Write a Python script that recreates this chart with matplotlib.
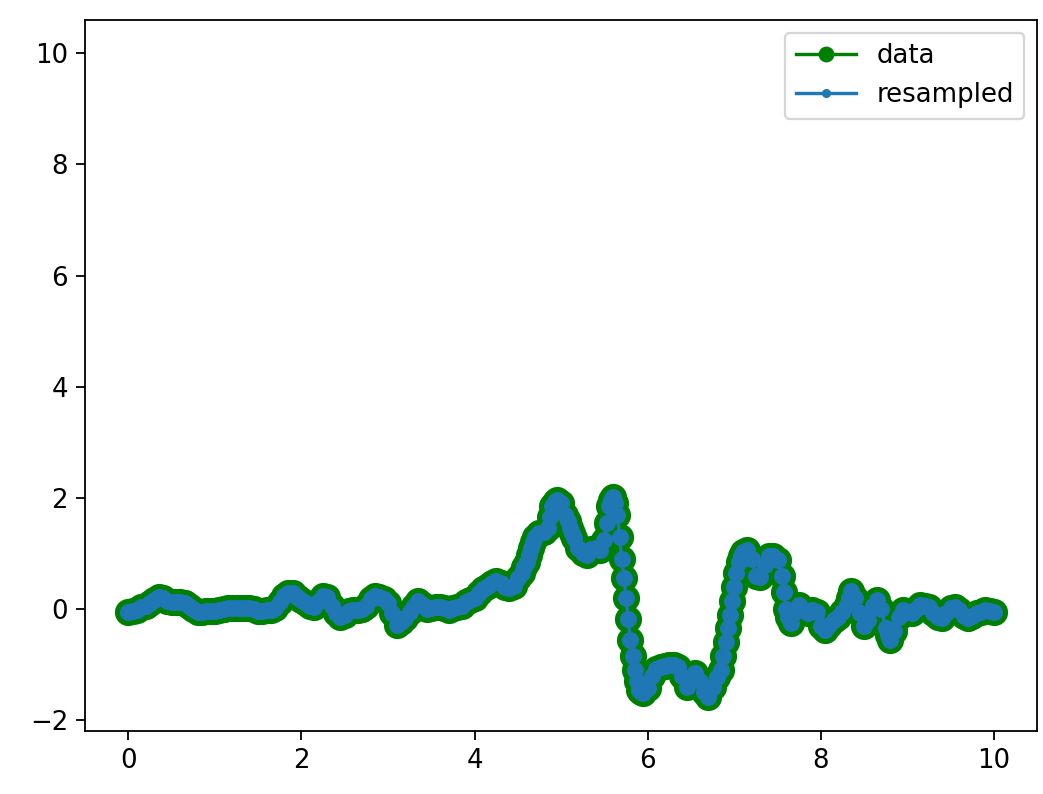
import numpy as np
import matplotlib
matplotlib.use("Agg")
from matplotlib import pyplot as plt
from matplotlib.lines import Line2D

# muestras, paso 0.05 de 0 a 10
x_base = np.arange(201) * 0.05
y_base = [-0.05, -0.04, -0.01, 0.03, 0.06, 0.10, 0.16, 0.22, 0.20, 0.15,
          0.13, 0.13, 0.12, 0.10, 0.05, 0.00, -0.05, -0.06, -0.04, -0.03,
          -0.03, -0.01, 0.00, 0.01, 0.01, 0.01, 0.02, 0.02, 0.01, 0.00,
          -0.03, -0.04, -0.02, -0.01, 0.02, 0.12, 0.24, 0.29, 0.28, 0.22,
          0.16, 0.10, 0.05, 0.04, 0.14, 0.24, 0.22, 0.06, -0.08, -0.14,
          -0.10, -0.04, -0.02, -0.01, 0.00, 0.06, 0.18, 0.24, 0.22, 0.18,
          0.10, -0.08, -0.28, -0.24, -0.16, -0.06, 0.06, 0.14, 0.08, 0.00,
          0.02, 0.04, 0.04, 0.02, -0.01, 0.01, 0.04, 0.06, 0.12, 0.16,
          0.20, 0.28, 0.36, 0.42, 0.47, 0.50, 0.46, 0.40, 0.38, 0.42,
          0.55, 0.65, 0.85, 1.10, 1.30, 1.36, 1.38, 1.45, 1.85, 1.97,
          1.90, 1.70, 1.45, 1.28, 1.10, 1.00, 0.98, 1.08, 1.10, 1.06,
          1.25, 1.85, 2.02, 1.70, 0.90, 0.20, -0.55, -1.10, -1.45, -1.52,
          -1.42, -1.20, -1.08, -1.05, -1.03, -1.00, -1.00, -1.05, -1.20, -1.40,
          -1.25, -1.16, -1.30, -1.50, -1.58, -1.40, -1.22, -1.10, -0.60, -0.10,
          0.40, 0.85, 1.02, 1.06, 0.90, 0.60, 0.58, 0.80, 0.95, 0.96,
          0.88, 0.60, 0.00, -0.25, -0.05, 0.08, -0.02, -0.08, -0.02, -0.05,
          -0.30, -0.38, -0.28, -0.20, -0.15, -0.05, 0.08, 0.32, 0.20, -0.08,
          -0.30, -0.20, 0.05, 0.16, 0.00, -0.35, -0.55, -0.40, -0.15, -0.02,
          -0.05, -0.08, 0.00, 0.07, 0.06, 0.03, -0.08, -0.15, -0.16, -0.08,
          0.02, 0.04, -0.02, -0.12, -0.16, -0.12, -0.08, -0.05, -0.02, -0.04,
          -0.05]

# muestras extra en los tramos de mucha pendiente
x_extra = [4.575, 4.625, 4.675, 4.875, 4.925, 5.075, 5.125, 5.525, 5.575,
           5.625, 5.675, 5.725, 5.775, 5.825, 5.875, 5.925, 6.875, 6.925,
           6.975, 7.025, 7.075, 7.575, 7.625, 8.325, 8.775]
y_extra = [0.75, 0.98, 1.20, 1.65, 1.93, 1.58, 1.36, 1.55, 1.97,
           1.90, 1.30, 0.55, -0.18, -0.85, -1.30, -1.50, -0.85, -0.35,
           0.15, 0.65, 0.95, 0.30, -0.15, 0.20, -0.47]

x = np.concatenate([x_base, x_extra])
y = np.concatenate([y_base, y_extra])
orden = np.argsort(x)
x = x[orden]
y = y[orden]
y_resampled = y  # el remuestreo cae sobre los mismos puntos

fig = plt.figure(figsize=(1043 / 163, 794 / 163), dpi=163)
ax = fig.add_axes([0.0815, 0.079, 0.913, 0.896])

ax.plot(x, y, 'go-', markersize=11)
ax.plot(x, y_resampled, 'o-', color='C0', markersize=6.5)

ax.set_xlim(-0.5, 10.5)
ax.set_ylim(-2.2, 10.6)
ax.set_xticks([0, 2, 4, 6, 8, 10])
ax.set_yticks([-2, 0, 2, 4, 6, 8, 10])
ax.tick_params(labelsize=11.5, length=4)

# leyenda con marcadores de tamano normal
handles = [Line2D([], [], color='g', marker='o', label='data'),
           Line2D([], [], color='C0', marker='.', label='resampled')]
ax.legend(handles=handles, loc='upper right', fontsize=11.5,
          handlelength=2.3)

fig.savefig('out.png', dpi=163)
